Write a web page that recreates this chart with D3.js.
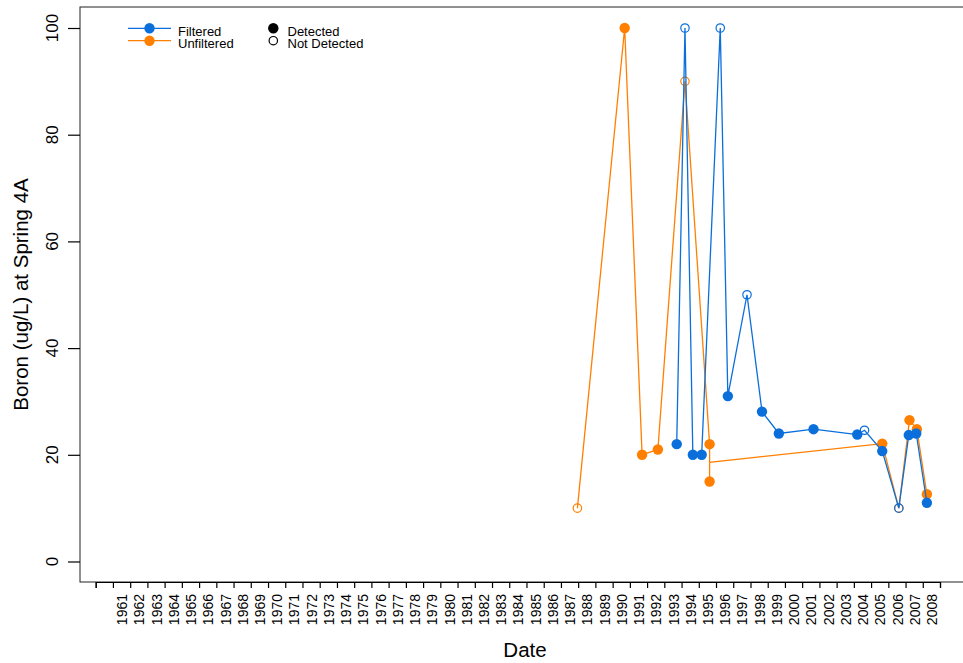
<!DOCTYPE html>
<html>
<head>
<meta charset="utf-8">
<script src="https://cdn.jsdelivr.net/npm/d3@7"></script>
<style>
  html, body { margin: 0; padding: 0; background: #fff; }
  svg { display: block; font-family: "Liberation Sans", Arial, Helvetica, sans-serif; }
</style>
</head>
<body>
<svg id="chart" width="963" height="663"></svg>
<script>
// ---------------- DATA ----------------
const tickYears = d3.range(1959, 2009);            // tick marks (Jan 1 of each year)
const labelYears = d3.range(1961, 2009);           // years that carry a label
const yTicks = [0, 20, 40, 60, 80, 100];

// Filtered series
const filteredDates = ["1992-09-20","1993-03-14","1993-08-28","1994-03-03","1995-04-01",
  "1995-09-09","1996-10-19","1997-09-02","1998-08-25","2000-08-29","2003-03-14",
  "2003-08-15","2004-08-25","2005-08-11","2006-03-10","2006-08-15","2007-03-29"];
const filteredValues = [22, 100, 20, 20, 100, 31, 50, 28.1, 24, 24.8, 23.8, 24.6, 20.7, 10, 23.7, 24, 11];
const filteredDetected = [1, 0, 1, 1, 0, 1, 0, 1, 1, 1, 1, 0, 1, 0, 1, 1, 1];

// Unfiltered series (detection flag -1 = no symbol recorded)
const unfilteredDates = ["1986-12-16","1989-09-13","1990-09-17","1991-08-18","1993-03-14",
  "1994-08-18","1994-08-18","1994-08-18","2004-08-25","2005-08-11","2006-03-25",
  "2006-08-29","2007-03-29"];
const unfilteredValues = [10, 100, 20, 21, 90, 22, 15, 18.6, 22.1, 10, 26.5, 24.8, 12.6];
const unfilteredDetected = [0, 1, 1, 1, 0, 1, 1, -1, 1, 0, 1, 1, 1];

const seriesNames = ["Filtered", "Unfiltered"];
const detectNames = ["Detected", "Not Detected"];
const colors = { Filtered: "#0a6fdb", Unfiltered: "#ff7f00" };

// ---------------- LAYOUT ----------------
const svg = d3.select("#chart");
const box = { left: 80, top: 7, right: 972, bottom: 582 };
const parse = d3.timeParse("%Y-%m-%d");

const x = d3.scaleTime()
  .domain([new Date(1959, 0, 1), new Date(2008, 0, 1)])
  .range([95.7, 940.0]);
const y = d3.scaleLinear().domain([0, 100]).range([561.5, 28]);

function build(dates, values, det) {
  return dates.map((d, i) => ({ date: parse(d), value: values[i], det: det[i] }));
}
const series = [
  { name: "Unfiltered", data: build(unfilteredDates, unfilteredValues, unfilteredDetected) },
  { name: "Filtered", data: build(filteredDates, filteredValues, filteredDetected) }
];

// box
svg.append("rect")
  .attr("x", box.left).attr("y", box.top)
  .attr("width", box.right - box.left).attr("height", box.bottom - box.top)
  .attr("fill", "none").attr("stroke", "#222").attr("stroke-width", 1);

// x axis
const xAxis = d3.axisBottom(x)
  .tickValues(tickYears.map(yr => new Date(yr, 0, 1)))
  .tickSize(6).tickFormat("");
const gx = svg.append("g").attr("transform", `translate(0,${box.bottom})`).call(xAxis);
gx.select(".domain").attr("stroke", "#000").attr("stroke-width", 1.2);
gx.selectAll(".tick line").attr("stroke", "#000").attr("stroke-width", 1.2);

svg.append("g").selectAll("text")
  .data(labelYears)
  .join("text")
  .attr("transform", d => `translate(${x(new Date(d, 0, 1)) - 3},594) rotate(-90)`)
  .attr("text-anchor", "end")
  .attr("font-size", 14)
  .attr("fill", "#000")
  .text(d => d);

// y axis
const yAxis = d3.axisLeft(y).tickValues(yTicks).tickSize(12).tickFormat("");
const gy = svg.append("g").attr("transform", `translate(${box.left},0)`).call(yAxis);
gy.select(".domain").remove();
gy.selectAll(".tick line").attr("stroke", "#000").attr("stroke-width", 1.2);

svg.append("g").selectAll("text")
  .data(yTicks)
  .join("text")
  .attr("transform", d => `translate(57.5,${y(d)}) rotate(-90)`)
  .attr("text-anchor", "middle")
  .attr("font-size", 17)
  .attr("fill", "#000")
  .text(d => d);

// axis titles
svg.append("text")
  .attr("transform", `translate(28,${(box.top + box.bottom) / 2}) rotate(-90)`)
  .attr("text-anchor", "middle")
  .attr("font-size", 20.5)
  .text("Boron (ug/L) at Spring 4A");
svg.append("text")
  .attr("x", 525).attr("y", 657)
  .attr("text-anchor", "middle")
  .attr("font-size", 20.5)
  .text("Date");

// lines and markers
const line = d3.line().x(d => x(d.date)).y(d => y(d.value));
series.forEach(s => {
  const c = colors[s.name];
  const g = svg.append("g");
  g.append("path").datum(s.data)
    .attr("d", line).attr("fill", "none")
    .attr("stroke", c).attr("stroke-width", 1.3);
  g.selectAll("circle.det")
    .data(s.data.filter(d => d.det === 1))
    .join("circle")
    .attr("cx", d => x(d.date)).attr("cy", d => y(d.value))
    .attr("r", 5.2).attr("fill", c);
  g.selectAll("circle.nd")
    .data(s.data.filter(d => d.det === 0))
    .join("circle")
    .attr("cx", d => x(d.date)).attr("cy", d => y(d.value))
    .attr("r", 4.2).attr("fill", "none")
    .attr("stroke", c).attr("stroke-width", 1.2);
});

// legend
const leg = svg.append("g").attr("font-size", 13);
seriesNames.forEach((n, i) => {
  const ly = 28.3 + i * 12.4;
  leg.append("line").attr("x1", 128).attr("x2", 171).attr("y1", ly).attr("y2", ly)
    .attr("stroke", colors[n]).attr("stroke-width", 1.3);
  leg.append("circle").attr("cx", 149.5).attr("cy", ly).attr("r", 5.2).attr("fill", colors[n]);
  leg.append("text").attr("x", 178).attr("y", ly + 7.3).text(n);
});
detectNames.forEach((n, i) => {
  const ly = 28.3 + i * 12.4;
  const c = leg.append("circle").attr("cx", 273.3).attr("cy", ly);
  if (i === 0) c.attr("r", 5.2).attr("fill", "#000");
  else c.attr("r", 4.2).attr("fill", "none").attr("stroke", "#000").attr("stroke-width", 1.2);
  leg.append("text").attr("x", 287.5).attr("y", ly + 7.3).text(n);
});
</script>
</body>
</html>
